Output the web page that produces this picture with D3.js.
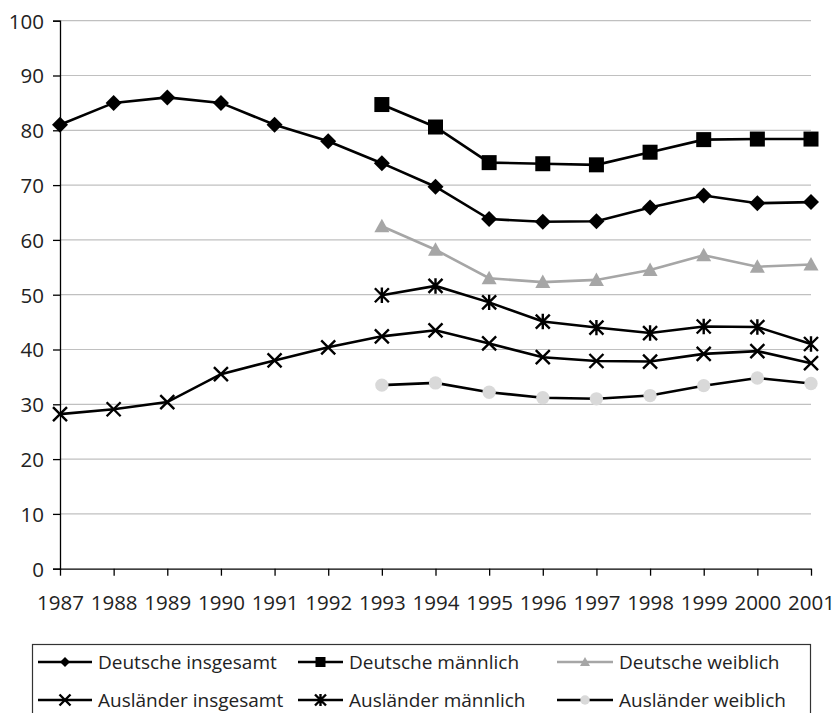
<!DOCTYPE html>
<html><head><meta charset="utf-8">
<script src="https://cdn.jsdelivr.net/npm/d3@7/dist/d3.min.js"></script>
<style>body{margin:0;background:#fff;} svg{display:block;font-family:"Open Sans",sans-serif;}</style>
</head><body>
<script>
const years = [1987,1988,1989,1990,1991,1992,1993,1994,1995,1996,1997,1998,1999,2000,2001];
const yTicks = [0,10,20,30,40,50,60,70,80,90,100];
const deutscheInsgesamt = [81,85,86,85,81,78,74,69.7,63.8,63.3,63.4,65.9,68.1,66.7,66.9];
const deutscheMaennlich = [null,null,null,null,null,null,84.7,80.6,74.1,73.9,73.7,76.0,78.3,78.4,78.4];
const deutscheWeiblich = [null,null,null,null,null,null,62.5,58.2,53.0,52.3,52.7,54.5,57.2,55.1,55.5];
const auslaenderInsgesamt = [28.2,29.1,30.4,35.5,38.0,40.4,42.4,43.5,41.1,38.6,37.9,37.8,39.2,39.7,37.5];
const auslaenderMaennlich = [null,null,null,null,null,null,49.9,51.6,48.6,45.1,44.0,43.0,44.2,44.1,41.0];
const auslaenderWeiblich = [null,null,null,null,null,null,33.5,33.9,32.2,31.2,31.0,31.6,33.4,34.8,33.8];

const series = [
  {name:"Deutsche insgesamt", values:deutscheInsgesamt, line:"#000", marker:"diamond", fill:"#000"},
  {name:"Deutsche männlich", values:deutscheMaennlich, line:"#000", marker:"square", fill:"#000"},
  {name:"Deutsche weiblich", values:deutscheWeiblich, line:"#a6a6a6", marker:"triangle", fill:"#a6a6a6"},
  {name:"Ausländer insgesamt", values:auslaenderInsgesamt, line:"#000", marker:"x", fill:"#000"},
  {name:"Ausländer männlich", values:auslaenderMaennlich, line:"#000", marker:"star", fill:"#000"},
  {name:"Ausländer weiblich", values:auslaenderWeiblich, line:"#000", marker:"circle", fill:"#d9d9d9"}
];

const W=832,H=713;
const svg=d3.select("body").append("svg").attr("width",W).attr("height",H);
const x=d3.scalePoint().domain(years).range([60,811]);
const y=d3.scaleLinear().domain([0,100]).range([568.7,20.7]);

// gridlines
svg.append("g").selectAll("line").data(yTicks.filter(d=>d>0)).join("line")
  .attr("x1",60).attr("x2",811).attr("y1",d=>y(d)).attr("y2",d=>y(d))
  .attr("stroke","#c0c0c0").attr("stroke-width",1.2);

// y axis
const ya=svg.append("g").attr("transform","translate(60,0)")
  .call(d3.axisLeft(y).tickValues(yTicks).tickSize(7).tickPadding(9));
ya.attr("font-family","Open Sans").attr("font-size",20.5);
ya.select(".domain").attr("stroke","#000").attr("stroke-width",1.3);
ya.selectAll(".tick line").attr("stroke","#000").attr("stroke-width",1.3);
ya.selectAll("text").attr("fill","#222").attr("dy","0.36em");

// x axis
const xa=svg.append("g").attr("transform","translate(0,"+y(0)+")")
  .call(d3.axisBottom(x).tickSize(7).tickPadding(20).tickSizeOuter(0).tickFormat(d3.format("d")));
xa.attr("font-family","Open Sans").attr("font-size",20.5);
xa.select(".domain").attr("stroke","#000").attr("stroke-width",1.3);
xa.selectAll(".tick line").attr("stroke","#000").attr("stroke-width",1.3);
xa.selectAll("text").attr("fill","#222");

function drawMarker(g,type,s,fill){
  const r=s/2;
  if(type==="diamond") g.append("path").attr("d",`M0,${-r}L${r},0L0,${r}L${-r},0Z`).attr("fill",fill);
  else if(type==="square") g.append("rect").attr("x",-r).attr("y",-r).attr("width",s).attr("height",s).attr("fill",fill);
  else if(type==="triangle") g.append("path").attr("d",`M0,${-r}L${r},${r*0.8}L${-r},${r*0.8}Z`).attr("fill",fill);
  else if(type==="circle") g.append("circle").attr("r",r*0.95).attr("fill",fill);
  else if(type==="x") g.append("path").attr("d",`M${-r},${-r}L${r},${r}M${-r},${r}L${r},${-r}`).attr("stroke",fill).attr("stroke-width",2.4).attr("fill","none");
  else if(type==="star") g.append("path").attr("d",`M${-r},${-r}L${r},${r}M${-r},${r}L${r},${-r}M0,${-r*1.1}L0,${r*1.1}`).attr("stroke",fill).attr("stroke-width",2.4).attr("fill","none");
}

const line=d3.line().defined(d=>d.v!=null).x(d=>x(d.yr)).y(d=>y(d.v));
const msize={diamond:16,square:15,triangle:15,circle:14,x:14,star:14};
series.forEach(s=>{
  const pts=years.map((yr,i)=>({yr,v:s.values[i]}));
  svg.append("path").datum(pts).attr("d",line).attr("fill","none")
    .attr("stroke",s.line).attr("stroke-width",2.6);
  pts.filter(p=>p.v!=null).forEach(p=>{
    const g=svg.append("g").attr("transform",`translate(${x(p.yr)},${y(p.v)})`);
    drawMarker(g,s.marker,msize[s.marker],s.fill);
  });
});

// legend
svg.append("rect").attr("x",32.5).attr("y",644.5).attr("width",778).attr("height",80)
  .attr("fill","none").attr("stroke","#333").attr("stroke-width",1.2);
const colX=[38,298,557], rowY=[662,700];
series.forEach((s,i)=>{
  const c=i%3, r=Math.floor(i/3);
  const x0=colX[c], yy=rowY[r], lw=(c===0?54:(c===1?45:56));
  const g=svg.append("g");
  g.append("line").attr("x1",x0).attr("x2",x0+lw).attr("y1",yy).attr("y2",yy)
    .attr("stroke",s.line).attr("stroke-width",2.6);
  const mg=g.append("g").attr("transform",`translate(${x0+lw/2},${yy})`);
  drawMarker(mg,s.marker,s.marker==="x"||s.marker==="star"?11:10,s.fill);
  g.append("text").attr("x",x0+lw+6).attr("y",yy).attr("dy","0.35em")
    .attr("font-size",19).attr("fill","#222").text(s.name);
});
</script>
</body></html>
